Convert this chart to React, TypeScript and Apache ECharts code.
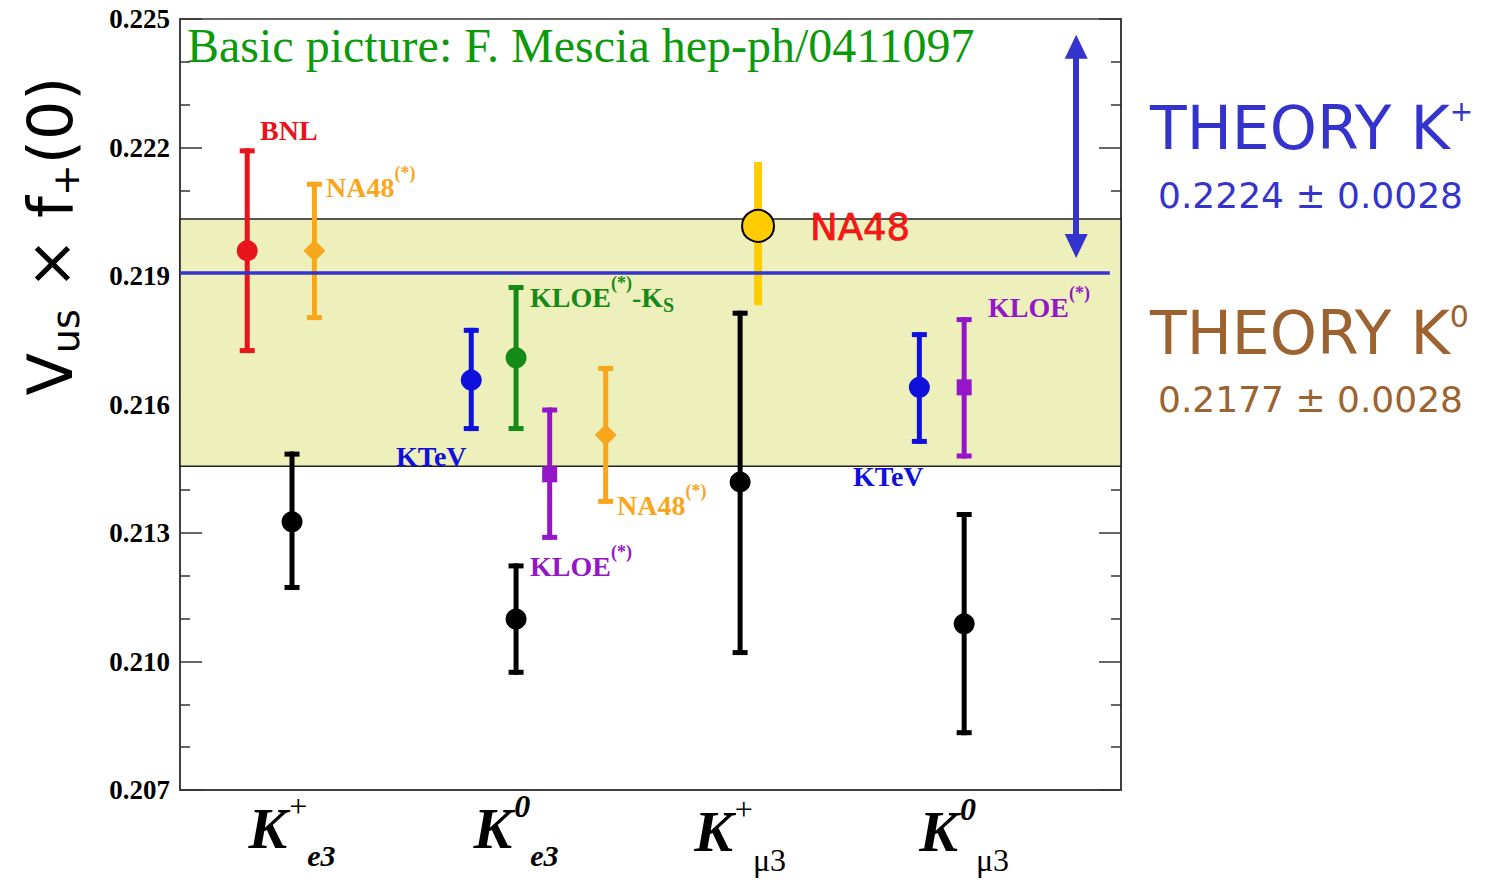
import React, { useEffect, useRef } from "react";
import * as echarts from "echarts";

// ---------- data ----------
const yMin = 0.207;
const yMax = 0.225;
const yStep = 0.003;

const xMin = 0.5;
const xMax = 4.7;

const categoryPos = [1, 2, 3, 4];
const categoryMain = ["K", "K", "K", "K"];
const categorySup = ["+", "0", "+", "0"];
const categorySub = ["e3", "e3", "μ3", "μ3"];

// each entry: [x, central value, lower edge, upper edge]
const bnl = [[0.8, 0.21959, 0.2172, 0.22198]];
const na48Ke3 = [
  [1.1, 0.21959, 0.21797, 0.2212],
  [2.4, 0.21529, 0.21368, 0.2169],
];
const average = [
  [1.0, 0.21326, 0.21167, 0.2149],
  [2.0, 0.21099, 0.20969, 0.21229],
  [3.0, 0.21419, 0.21015, 0.21819],
  [4.0, 0.21088, 0.20828, 0.21349],
];
const ktev = [
  [1.8, 0.21657, 0.21538, 0.21779],
  [3.8, 0.2164, 0.21508, 0.21769],
];
const kloeKs = [[2.0, 0.21709, 0.21538, 0.21879]];
const kloe = [
  [2.15, 0.21437, 0.21284, 0.21593],
  [4.0, 0.2164, 0.21474, 0.21804],
];
const na48Kmu3 = [[3.08, 0.22017, 0.21832, 0.22166]];

const bandRange = [0.21456, 0.22033];
const theoryLineValue = 0.21908;
const theoryLineX = [0.5, 4.65];
const arrowX = 4.5;
const arrowRange = [0.2197, 0.22435];

const titleText = "Basic picture: F. Mescia hep-ph/0411097";
const theoryKplus = ["THEORY K", "+", "0.2224 ± 0.0028"];
const theoryK0 = ["THEORY K", "0", "0.2177 ± 0.0028"];

// ---------- styles ----------
const SERIF = "'Liberation Serif', 'Times New Roman', serif";
const SANS = "'DejaVu Sans', sans-serif";

const C = {
  red: "#E8141C",
  orange: "#F8A61C",
  green: "#168A16",
  blue: "#1010DD",
  purple: "#9416C8",
  black: "#000000",
  yellow: "#FFCC00",
  band: "#EEF0BB",
  theoryBlue: "#3434CC",
  brown: "#9C6230",
  title: "#0C990C",
};

function errorSeries(name: string, data: number[][], color: string, width: number, cap: number) {
  return {
    type: "custom",
    name,
    silent: true,
    z: 3,
    data: data.map((d) => [d[0], d[2], d[3]]),
    encode: { x: 0, y: [1, 2] },
    renderItem: (params: any, api: any) => {
      const x = api.value(0);
      const lo = api.coord([x, api.value(1)]);
      const hi = api.coord([x, api.value(2)]);
      const children: any[] = [
        {
          type: "line",
          shape: { x1: lo[0], y1: lo[1], x2: hi[0], y2: hi[1] },
          style: { stroke: color, lineWidth: width },
        },
      ];
      if (cap > 0) {
        children.push({
          type: "rect",
          shape: { x: lo[0] - cap / 2, y: lo[1] - 5, width: cap, height: 5 },
          style: { fill: color },
        });
        children.push({
          type: "rect",
          shape: { x: hi[0] - cap / 2, y: hi[1], width: cap, height: 5 },
          style: { fill: color },
        });
      }
      return { type: "group", children };
    },
  };
}

function markerSeries(name: string, data: number[][], symbol: string, size: any, color: string, extra: any = {}) {
  return {
    type: "scatter",
    name,
    silent: true,
    z: 4,
    symbol,
    symbolSize: size,
    data: data.map((d) => [d[0], d[1]]),
    itemStyle: { color, opacity: 1, ...extra },
  };
}

function labelRich(color: string, size = 28) {
  return {
    m: { fontFamily: SERIF, fontWeight: "bold", fontSize: size, fill: color },
    s: { fontFamily: SERIF, fontWeight: "bold", fontSize: 18, fill: color, padding: [0, 0, 28, 0] },
    b: { fontFamily: SERIF, fontWeight: "bold", fontSize: 20, fill: color, padding: [16, 0, 0, 0] },
  };
}

function annot(text: string, x: number, y: number, color: string) {
  return {
    type: "text",
    x,
    y,
    silent: true,
    z: 10,
    style: { text, rich: labelRich(color), align: "left", verticalAlign: "middle" },
  };
}

export default function App() {
  const ref = useRef<HTMLDivElement>(null);

  useEffect(() => {
    if (!ref.current) return;
    const chart = echarts.init(ref.current, undefined, { renderer: "svg" });

    const yAxisCommon = {
      type: "value",
      min: yMin,
      max: yMax,
      interval: yStep,
      splitLine: { show: false },
      axisLine: { show: true, lineStyle: { color: "#333", width: 1.5 } },
      axisTick: { show: true, inside: true, length: 22, lineStyle: { color: "#333", width: 1.5 } },
      minorTick: { show: true, splitNumber: 3, length: 10, lineStyle: { color: "#333", width: 1.5 } },
    };

    const option: any = {
      animation: false,
      backgroundColor: "#ffffff",
      grid: {
        left: 180,
        right: 371,
        top: 19,
        bottom: 94,
        show: true,
        borderColor: "#333",
        borderWidth: 1.5,
        backgroundColor: "transparent",
      },
      xAxis: {
        type: "value",
        min: xMin,
        max: xMax,
        splitLine: { show: false },
        axisLine: { show: true, lineStyle: { color: "#333", width: 1.5 } },
        axisTick: { show: false },
        axisLabel: {
          show: true,
          customValues: categoryPos,
          margin: -4,
          formatter: (v: number) => {
            const i = categoryPos.indexOf(Math.round(v));
            if (i < 0) return "";
            const supStyle = categorySup[i] === "0" ? "supZ" : "supP";
            const subStyle = categorySub[i] === "e3" ? "subE" : "subM";
            return `{k|${categoryMain[i]}}{${supStyle}|${categorySup[i]}}{${subStyle}|${categorySub[i]}}`;
          },
          rich: {
            k: { fontFamily: SERIF, fontWeight: "bold", fontStyle: "italic", fontSize: 58, color: "#000" },
            supP: { fontFamily: SERIF, fontSize: 32, color: "#000", padding: [0, 0, 44, 2] },
            supZ: { fontFamily: SERIF, fontWeight: "bold", fontStyle: "italic", fontSize: 32, color: "#000", padding: [0, 0, 44, 2] },
            subE: { fontFamily: SERIF, fontWeight: "bold", fontStyle: "italic", fontSize: 30, color: "#000", padding: [54, 0, 0, 0] },
            subM: { fontFamily: SERIF, fontSize: 32, color: "#000", padding: [58, 0, 0, 0] },
          },
        },
      },
      yAxis: [
        {
          ...yAxisCommon,
          position: "left",
          axisLabel: {
            show: true,
            showMinLabel: true,
            showMaxLabel: true,
            margin: 10,
            fontFamily: SERIF,
            fontWeight: "bold",
            fontSize: 27,
            color: "#000",
            formatter: (v: number) => v.toFixed(3),
          },
        },
        {
          ...yAxisCommon,
          position: "right",
          axisLabel: { show: false },
        },
      ],
      series: [
        {
          type: "line",
          name: "band",
          silent: true,
          z: 1,
          data: [],
          markArea: {
            silent: true,
            z: 1,
            itemStyle: { color: C.band, borderColor: "#222", borderWidth: 1.5 },
            data: [[{ yAxis: bandRange[0] }, { yAxis: bandRange[1] }]],
          },
        },
        {
          type: "line",
          name: "theory line",
          silent: true,
          z: 2,
          data: [],
          markLine: {
            silent: true,
            symbol: ["none", "none"],
            label: { show: false },
            lineStyle: { color: C.theoryBlue, width: 3.5, type: "solid" },
            data: [
              [
                { coord: [theoryLineX[0], theoryLineValue] },
                { coord: [theoryLineX[1], theoryLineValue] },
              ],
            ],
          },
        },
        {
          type: "line",
          name: "arrow",
          silent: true,
          z: 2,
          data: [],
          markLine: {
            silent: true,
            symbol: ["triangle", "triangle"],
            symbolSize: [23, 24],
            label: { show: false },
            lineStyle: { color: C.theoryBlue, width: 6, type: "solid" },
            data: [
              [
                { coord: [arrowX, arrowRange[1]] },
                { coord: [arrowX, arrowRange[0]] },
              ],
            ],
          },
        },
        errorSeries("BNL err", bnl, C.red, 5, 15),
        errorSeries("NA48 Ke3 err", na48Ke3, C.orange, 5, 15),
        errorSeries("average err", average, C.black, 5, 15),
        errorSeries("KTeV err", ktev, C.blue, 5, 15),
        errorSeries("KLOE Ks err", kloeKs, C.green, 5, 15),
        errorSeries("KLOE err", kloe, C.purple, 5, 15),
        errorSeries("NA48 Kmu3 err", na48Kmu3, C.yellow, 8, 0),
        markerSeries("BNL", bnl, "circle", 21, C.red),
        markerSeries("NA48 Ke3", na48Ke3, "diamond", [22, 22], C.orange),
        markerSeries("average", average, "circle", 21, C.black),
        markerSeries("KTeV", ktev, "circle", 21, C.blue),
        markerSeries("KLOE Ks", kloeKs, "circle", 21, C.green),
        markerSeries("KLOE", kloe, "rect", [15, 16], C.purple),
        markerSeries("NA48 Kmu3", na48Kmu3, "circle", 32, C.yellow, { borderColor: "#000", borderWidth: 2 }),
      ],
      graphic: [
        {
          type: "text",
          x: 187,
          y: 45,
          silent: true,
          style: { text: titleText, fontFamily: SERIF, fontSize: 48, fill: C.title, align: "left", verticalAlign: "middle" },
        },
        {
          type: "text",
          x: 50,
          y: 236,
          rotation: Math.PI / 2,
          silent: true,
          style: {
            text: "{m|V}{s|us}{m| × f}{s|+}{m|(0)}",
            align: "center",
            verticalAlign: "middle",
            rich: {
              m: { fontFamily: SANS, fontSize: 62, fill: "#000" },
              s: { fontFamily: SANS, fontSize: 38, fill: "#000", padding: [32, 0, 0, 0] },
            },
          },
        },
        annot("{m|BNL}", 260, 130, C.red),
        annot("{m|NA48}{s|(*)}", 326, 187, C.orange),
        annot("{m|KLOE}{s|(*)}{m|-K}{b|S}", 530, 297, C.green),
        annot("{m|KTeV}", 396, 456, C.blue),
        annot("{m|KLOE}{s|(*)}", 530, 566, C.purple),
        annot("{m|NA48}{s|(*)}", 617, 505, C.orange),
        annot("{m|KTeV}", 853, 476, C.blue),
        annot("{m|KLOE}{s|(*)}", 988, 307, C.purple),
        {
          type: "text",
          x: 810,
          y: 227,
          silent: true,
          z: 10,
          style: { text: "NA48", fontFamily: SANS, fontSize: 37, fill: "#FF1414", stroke: "#7a0000", lineWidth: 0.6, align: "left", verticalAlign: "middle" },
        },
        {
          type: "text",
          x: 1150,
          y: 128,
          silent: true,
          style: {
            text: `{m|${theoryKplus[0]}}{s|${theoryKplus[1]}}`,
            align: "left",
            verticalAlign: "middle",
            rich: {
              m: { fontFamily: SANS, fontSize: 60, fill: C.theoryBlue },
              s: { fontFamily: SANS, fontSize: 28, fill: C.theoryBlue, padding: [0, 0, 34, 0] },
            },
          },
        },
        {
          type: "text",
          x: 1158,
          y: 195,
          silent: true,
          style: { text: theoryKplus[2], fontFamily: SANS, fontSize: 36, fill: C.theoryBlue, align: "left", verticalAlign: "middle" },
        },
        {
          type: "text",
          x: 1150,
          y: 333,
          silent: true,
          style: {
            text: `{m|${theoryK0[0]}}{s|${theoryK0[1]}}`,
            align: "left",
            verticalAlign: "middle",
            rich: {
              m: { fontFamily: SANS, fontSize: 60, fill: C.brown },
              s: { fontFamily: SANS, fontSize: 30, fill: C.brown, padding: [0, 0, 34, 0] },
            },
          },
        },
        {
          type: "text",
          x: 1158,
          y: 399,
          silent: true,
          style: { text: theoryK0[2], fontFamily: SANS, fontSize: 36, fill: C.brown, align: "left", verticalAlign: "middle" },
        },
      ],
    };

    chart.setOption(option);
    return () => chart.dispose();
  }, []);

  return <div ref={ref} style={{ position: "absolute", left: 0, top: 0, width: 1492, height: 884 }} />;
}
